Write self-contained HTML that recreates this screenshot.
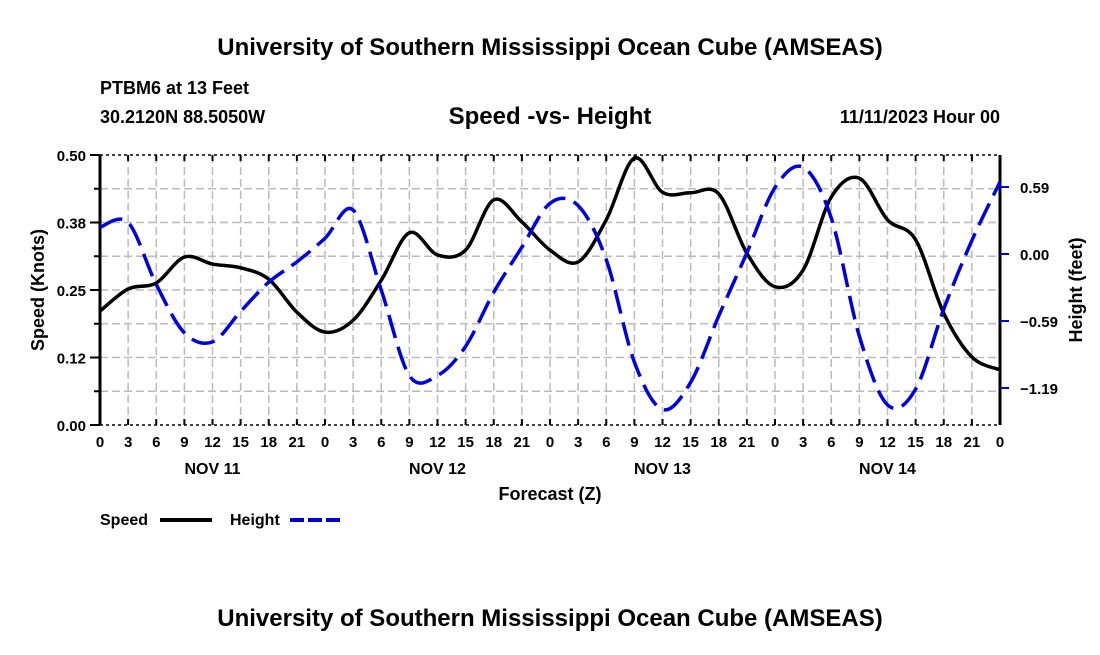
<!DOCTYPE html>
<html><head><meta charset="utf-8"><style>
body{margin:0;background:#fff;}
svg text{font-family:"Liberation Sans",Arial,sans-serif;font-weight:bold;fill:#000;}
</style></head><body>
<svg id="chart" width="1100" height="650" viewBox="0 0 1100 650" xmlns="http://www.w3.org/2000/svg">
<text x="550" y="55" font-size="24" text-anchor="middle">University of Southern Mississippi Ocean Cube (AMSEAS)</text>
<text x="100" y="94" font-size="18">PTBM6 at 13 Feet</text>
<text x="100" y="123" font-size="18">30.2120N  88.5050W</text>
<text x="550" y="124" font-size="24" text-anchor="middle">Speed -vs- Height</text>
<text x="1000" y="123" font-size="18" text-anchor="end">11/11/2023 Hour 00</text>
<g id="grid"></g>
<g id="axes"></g>
<g id="series"></g>
<text x="550" y="500" font-size="18" text-anchor="middle">Forecast (Z)</text>
<text transform="translate(44,290) rotate(-90)" font-size="18" text-anchor="middle">Speed (Knots)</text>
<text transform="translate(1082,290) rotate(-90)" font-size="18" text-anchor="middle">Height (feet)</text>
<g>
<text x="100" y="525" font-size="16">Speed</text>
<line x1="160" y1="520" x2="212" y2="520" stroke="#000" stroke-width="4"/>
<text x="230" y="525" font-size="16">Height</text>
<line x1="290" y1="520" x2="342" y2="520" stroke="#0000dd" stroke-width="4" stroke-dasharray="14,4"/>
</g>
<text x="550" y="626" font-size="24" text-anchor="middle">University of Southern Mississippi Ocean Cube (AMSEAS)</text>
</svg>
<script>
const hours=[0,3,6,9,12,15,18,21,24,27,30,33,36,39,42,45,48,51,54,57,60,63,66,69,72,75,78,81,84,87,90,93,96];
const speedValues=[0.211,0.252,0.263,0.311,0.298,0.291,0.270,0.209,0.172,0.194,0.268,0.356,0.315,0.324,0.417,0.376,0.324,0.302,0.380,0.494,0.431,0.430,0.428,0.318,0.256,0.287,0.422,0.457,0.380,0.343,0.207,0.126,0.102];
const heightValues=[0.238,0.28,-0.27,-0.70,-0.78,-0.51,-0.25,-0.07,0.14,0.39,-0.32,-1.08,-1.08,-0.82,-0.34,0.06,0.45,0.43,-0.05,-0.96,-1.38,-1.14,-0.55,0.01,0.59,0.77,0.32,-0.73,-1.34,-1.20,-0.49,0.12,0.64];
const speedTicks=[0,0.125,0.25,0.375,0.5];
const speedTickLabels=["0.00","0.12","0.25","0.38","0.50"];
const heightTicks=[0.595,0,-0.595,-1.19];
const heightTickLabels=["0.59","0.00","\u22120.59","\u22121.19"];
const dayLabels=["NOV 11","NOV 12","NOV 13","NOV 14"];
const dayCenters=[12,36,60,84];

const L=100,R=1000,T=155,B=425;
const xS=h=>L+(h/96)*(R-L);
const yS=v=>B-(v/0.5)*(B-T);
const hPx=(254-187)/0.595;
const yH=v=>254-v*hPx;
const NS="http://www.w3.org/2000/svg";
function mk(tag,attrs,parent){const e=document.createElementNS(NS,tag);for(const k in attrs)e.setAttribute(k,attrs[k]);parent.appendChild(e);return e;}
const grid=document.getElementById('grid'),axes=document.getElementById('axes'),series=document.getElementById('series');
for(let i=1;i<8;i++){const y=yS(i*0.0625);
const g=mk('line',{x1:L,x2:R,y1:y,y2:y,stroke:'#bbb','stroke-width':1.5,'stroke-dasharray':'8,4'},grid);

}
for(let h=3;h<96;h+=3){const x=xS(h);
const g=mk('line',{x1:x,x2:x,y1:T,y2:B,stroke:'#bbb','stroke-width':1.5,'stroke-dasharray':'8,4'},grid);

}
mk('line',{x1:L,x2:R,y1:T,y2:T,stroke:'#000','stroke-width':1.5,'stroke-dasharray':'3,3'},axes);
mk('line',{x1:L,x2:R,y1:B,y2:B,stroke:'#000','stroke-width':1.5,'stroke-dasharray':'3,3'},axes);
mk('line',{x1:L,x2:L,y1:T,y2:B,stroke:'#000','stroke-width':3},axes);
mk('line',{x1:R,x2:R,y1:T,y2:B,stroke:'#000','stroke-width':3},axes);
for(let h=0;h<=96;h+=3){const x=xS(h);
mk('line',{x1:x,x2:x,y1:B,y2:B-6,stroke:'#000','stroke-width':2},axes);
mk('line',{x1:x,x2:x,y1:T,y2:T+6,stroke:'#000','stroke-width':2},axes);
const t=mk('text',{x:x,y:B+22,'font-size':15,'text-anchor':'middle'},axes);t.textContent=String(h%24);

}
dayLabels.forEach((d,i)=>{const t=mk('text',{x:xS(dayCenters[i]),y:B+49,'font-size':16,'text-anchor':'middle'},axes);t.textContent=d;

});
for(let i=0;i<=8;i++){const y=yS(i*0.0625);mk('line',{x1:L-6,x2:L,y1:y,y2:y,stroke:'#000','stroke-width':2},axes);}
speedTicks.forEach((v,i)=>{const y=yS(v);mk('line',{x1:L-10,x2:L,y1:y,y2:y,stroke:'#000','stroke-width':2},axes);
const t=mk('text',{x:L-14,y:y+6,'font-size':15,'text-anchor':'end'},axes);t.textContent=speedTickLabels[i];

});
heightTicks.forEach((v,i)=>{const y=yH(v);mk('line',{x1:R,x2:R+9,y1:y,y2:y,stroke:'#0000dd','stroke-width':2},axes);
const t=mk('text',{x:R+20,y:y+6,'font-size':15},axes);t.textContent=heightTickLabels[i];

});
function smooth(pts){let d=`M${pts[0][0]},${pts[0][1]}`;for(let i=0;i<pts.length-1;i++){const p0=pts[Math.max(i-1,0)],p1=pts[i],p2=pts[i+1],p3=pts[Math.min(i+2,pts.length-1)];
d+=` C${p1[0]+(p2[0]-p0[0])/6},${p1[1]+(p2[1]-p0[1])/6} ${p2[0]-(p3[0]-p1[0])/6},${p2[1]-(p3[1]-p1[1])/6} ${p2[0]},${p2[1]}`;}return d;}
const sp=mk('path',{d:smooth(hours.map((h,i)=>[xS(h),yS(speedValues[i])])),fill:'none',stroke:'#000','stroke-width':3.5},series);


const hp=mk('path',{d:smooth(hours.map((h,i)=>[xS(h),yH(heightValues[i])])),fill:'none',stroke:'#0000dd','stroke-width':3.5,'stroke-dasharray':'24,9'},series);


</script>
</body></html>
